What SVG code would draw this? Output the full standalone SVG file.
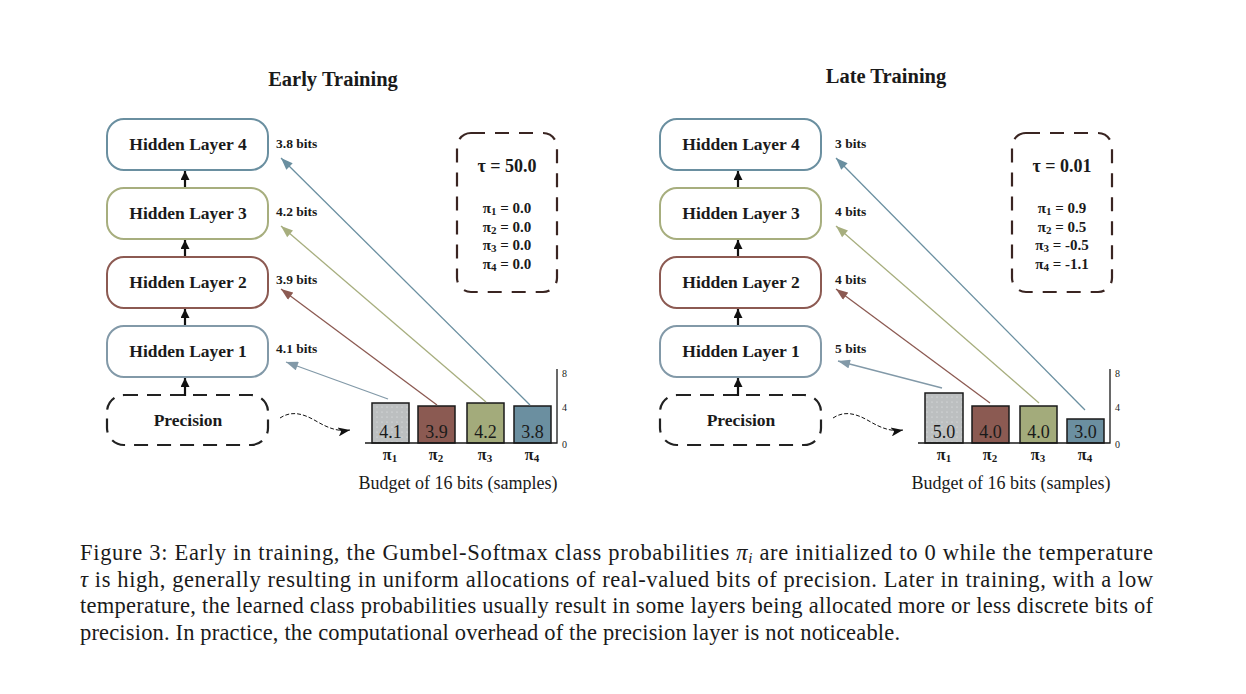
<svg xmlns="http://www.w3.org/2000/svg" width="1246" height="694" viewBox="0 0 1246 694">
<defs>
<style>
.bg{fill:#ffffff}
.title{font-family:"Liberation Serif","DejaVu Serif",serif;font-weight:bold;font-size:20.5px;fill:#1a1a1a;text-anchor:middle}
.node{fill:#ffffff;stroke-width:2}
.nlabel{font-family:"Liberation Serif","DejaVu Serif",serif;font-weight:bold;font-size:17.5px;fill:#1a1a1a;text-anchor:middle}
.bits{font-family:"Liberation Serif","DejaVu Serif",serif;font-weight:bold;font-size:13.5px;fill:#1a1a1a}
.dash{fill:#ffffff;stroke:#222;stroke-width:2.2;stroke-dasharray:14 9}
.tau{fill:none;stroke:#3a2522;stroke-width:2.2;stroke-dasharray:14 10}
.tt{font-family:"Liberation Serif","DejaVu Serif",serif;font-weight:bold;font-size:18px;fill:#1a1a1a;text-anchor:middle}
.pt{font-family:"Liberation Serif","DejaVu Serif",serif;font-weight:bold;font-size:15px;fill:#1a1a1a;text-anchor:middle}
.sub{font-size:11px}
.bar{stroke:#1a1a1a;stroke-width:1.5}
.bv{font-family:"Liberation Serif","DejaVu Serif",serif;font-size:18px;fill:#1a1a1a;text-anchor:middle}
.pl{font-family:"Liberation Serif","DejaVu Serif",serif;font-weight:bold;font-size:16px;fill:#1a1a1a;text-anchor:middle}
.tick{font-family:"Liberation Serif","DejaVu Serif",serif;font-size:10px;fill:#1a1a1a}
.axis{stroke:#1a1a1a;stroke-width:1.3;fill:none}
.budget{font-family:"Liberation Serif","DejaVu Serif",serif;font-size:18px;fill:#1a1a1a;text-anchor:middle}
.cap{font-family:"Liberation Serif","Times New Roman",serif;font-size:22.5px;fill:#1a1a1a}
.up{stroke:#111;stroke-width:2.2;fill:none}
.wave{stroke:#111;stroke-width:1;fill:none;stroke-dasharray:4 2}
.cb{stroke:#6a8fa0;stroke-width:1.3;fill:none}
.co{stroke:#a7ae7e;stroke-width:1.3;fill:none}
.cr{stroke:#8c5a52;stroke-width:1.3;fill:none}
.cg{stroke:#8299a8;stroke-width:1.3;fill:none}
</style>
<pattern id="dots" width="5" height="5" patternUnits="userSpaceOnUse">
<rect width="5" height="5" fill="#bcbfc0"/>
<circle cx="2" cy="2" r="0.6" fill="#e8eaea"/>
</pattern>
<marker id="mk" viewBox="0 0 10 10" refX="10" refY="5" markerWidth="9" markerHeight="9" markerUnits="userSpaceOnUse" orient="auto"><path d="M0,0 L10,5 L0,10 z" fill="#111"/></marker>
<marker id="mw" viewBox="0 0 12 9" refX="12" refY="4.5" markerWidth="13" markerHeight="9" markerUnits="userSpaceOnUse" orient="auto"><path d="M0,0 L12,4.5 L0,9 L3,4.5 z" fill="#111"/></marker>
<marker id="mb" viewBox="0 0 12 9" refX="12" refY="4.5" markerWidth="13" markerHeight="9" markerUnits="userSpaceOnUse" orient="auto"><path d="M0,0 L12,4.5 L0,9 z" fill="#6a8fa0"/></marker>
<marker id="mo" viewBox="0 0 12 9" refX="12" refY="4.5" markerWidth="13" markerHeight="9" markerUnits="userSpaceOnUse" orient="auto"><path d="M0,0 L12,4.5 L0,9 z" fill="#a7ae7e"/></marker>
<marker id="mr" viewBox="0 0 12 9" refX="12" refY="4.5" markerWidth="13" markerHeight="9" markerUnits="userSpaceOnUse" orient="auto"><path d="M0,0 L12,4.5 L0,9 z" fill="#8c5a52"/></marker>
<marker id="mg" viewBox="0 0 12 9" refX="12" refY="4.5" markerWidth="13" markerHeight="9" markerUnits="userSpaceOnUse" orient="auto"><path d="M0,0 L12,4.5 L0,9 z" fill="#8299a8"/></marker>
</defs>
<rect class="bg" x="0" y="0" width="1246" height="694"/>

<text class="title" x="333" y="86">Early Training</text>
<text class="title" x="886" y="83">Late Training</text>

<!-- Left panel nodes -->
<g id="early-hidden4"><rect class="node" x="107" y="119" width="161" height="51" rx="17" stroke="#6a8fa0"/><text class="nlabel" x="188" y="150">Hidden Layer 4</text></g>
<g id="early-hidden3"><rect class="node" x="107" y="188" width="161" height="51" rx="17" stroke="#a7ae7e"/><text class="nlabel" x="188" y="219">Hidden Layer 3</text></g>
<g id="early-hidden2"><rect class="node" x="107" y="257" width="161" height="51" rx="17" stroke="#8c5a52"/><text class="nlabel" x="188" y="288">Hidden Layer 2</text></g>
<g id="early-hidden1"><rect class="node" x="107" y="326" width="161" height="51" rx="17" stroke="#8299a8"/><text class="nlabel" x="188" y="357">Hidden Layer 1</text></g>
<g id="early-precision"><rect class="dash" x="107" y="395" width="161" height="50" rx="17"/><text class="nlabel" x="188" y="426">Precision</text></g>
<g id="early-bits">
<text class="bits" x="276" y="148">3.8 bits</text>
<text class="bits" x="276" y="216">4.2 bits</text>
<text class="bits" x="276" y="284">3.9 bits</text>
<text class="bits" x="276" y="353">4.1 bits</text>
</g>
<g id="early-tau"><rect class="tau" x="457" y="133" width="100" height="159" rx="14"/>
<text class="tt" x="507" y="172">τ = 50.0</text>
<text class="pt" x="507" y="213">π<tspan class="sub" dy="2">1</tspan><tspan dy="-2"> = 0.0</tspan></text>
<text class="pt" x="507" y="232">π<tspan class="sub" dy="2">2</tspan><tspan dy="-2"> = 0.0</tspan></text>
<text class="pt" x="507" y="250">π<tspan class="sub" dy="2">3</tspan><tspan dy="-2"> = 0.0</tspan></text>
<text class="pt" x="507" y="269">π<tspan class="sub" dy="2">4</tspan><tspan dy="-2"> = 0.0</tspan></text>
</g>
<g id="early-chart">
<rect class="bar" x="372" y="403" width="37" height="40" fill="url(#dots)"/>
<rect class="bar" x="418" y="406" width="37" height="37" fill="#8b5a52"/>
<rect class="bar" x="467" y="403" width="37" height="40" fill="#a3ab7b"/>
<rect class="bar" x="514" y="406" width="37" height="37" fill="#6b8fa0"/>
<path class="axis" d="M365,443 H557 V369"/>
<text class="tick" x="562" y="377">8</text>
<text class="tick" x="562" y="411">4</text>
<text class="tick" x="562" y="448">0</text>
<text class="bv" x="390.5" y="438">4.1</text>
<text class="bv" x="436.5" y="438">3.9</text>
<text class="bv" x="485.5" y="438">4.2</text>
<text class="bv" x="532.5" y="438">3.8</text>
<text class="pl" x="390" y="460">π<tspan class="sub" dy="2">1</tspan></text>
<text class="pl" x="436" y="460">π<tspan class="sub" dy="2">2</tspan></text>
<text class="pl" x="485" y="460">π<tspan class="sub" dy="2">3</tspan></text>
<text class="pl" x="532" y="460">π<tspan class="sub" dy="2">4</tspan></text>
<text class="budget" x="458" y="489">Budget of 16 bits (samples)</text>
</g>

<!-- Right panel nodes -->
<g id="late-hidden4"><rect class="node" x="660" y="119" width="161" height="51" rx="17" stroke="#6a8fa0"/><text class="nlabel" x="741" y="150">Hidden Layer 4</text></g>
<g id="late-hidden3"><rect class="node" x="660" y="188" width="161" height="51" rx="17" stroke="#a7ae7e"/><text class="nlabel" x="741" y="219">Hidden Layer 3</text></g>
<g id="late-hidden2"><rect class="node" x="660" y="257" width="161" height="51" rx="17" stroke="#8c5a52"/><text class="nlabel" x="741" y="288">Hidden Layer 2</text></g>
<g id="late-hidden1"><rect class="node" x="660" y="326" width="161" height="51" rx="17" stroke="#8299a8"/><text class="nlabel" x="741" y="357">Hidden Layer 1</text></g>
<g id="late-precision"><rect class="dash" x="660" y="395" width="161" height="50" rx="17"/><text class="nlabel" x="741" y="426">Precision</text></g>
<g id="late-bits">
<text class="bits" x="835" y="148">3 bits</text>
<text class="bits" x="835" y="216">4 bits</text>
<text class="bits" x="835" y="284">4 bits</text>
<text class="bits" x="835" y="353">5 bits</text>
</g>
<g id="late-tau"><rect class="tau" x="1012" y="133" width="100" height="159" rx="14"/>
<text class="tt" x="1062" y="172">τ = 0.01</text>
<text class="pt" x="1062" y="213">π<tspan class="sub" dy="2">1</tspan><tspan dy="-2"> = 0.9</tspan></text>
<text class="pt" x="1062" y="232">π<tspan class="sub" dy="2">2</tspan><tspan dy="-2"> = 0.5</tspan></text>
<text class="pt" x="1062" y="250">π<tspan class="sub" dy="2">3</tspan><tspan dy="-2"> = -0.5</tspan></text>
<text class="pt" x="1062" y="269">π<tspan class="sub" dy="2">4</tspan><tspan dy="-2"> = -1.1</tspan></text>
</g>
<g id="late-chart">
<rect class="bar" x="925" y="393" width="38" height="50" fill="url(#dots)"/>
<rect class="bar" x="972" y="406" width="37" height="37" fill="#8b5a52"/>
<rect class="bar" x="1020" y="406" width="37" height="37" fill="#a3ab7b"/>
<rect class="bar" x="1067" y="419" width="37" height="24" fill="#6b8fa0"/>
<path class="axis" d="M918,443 H1110 V369"/>
<text class="tick" x="1115" y="377">8</text>
<text class="tick" x="1115" y="411">4</text>
<text class="tick" x="1115" y="448">0</text>
<text class="bv" x="944" y="438">5.0</text>
<text class="bv" x="990.5" y="438">4.0</text>
<text class="bv" x="1038.5" y="438">4.0</text>
<text class="bv" x="1085.5" y="438">3.0</text>
<text class="pl" x="944" y="460">π<tspan class="sub" dy="2">1</tspan></text>
<text class="pl" x="990" y="460">π<tspan class="sub" dy="2">2</tspan></text>
<text class="pl" x="1038" y="460">π<tspan class="sub" dy="2">3</tspan></text>
<text class="pl" x="1085" y="460">π<tspan class="sub" dy="2">4</tspan></text>
<text class="budget" x="1011" y="489">Budget of 16 bits (samples)</text>
</g>

<!-- Connectors -->
<g id="connectors">
<line class="up" x1="185" y1="187" x2="185" y2="171" marker-end="url(#mk)"/>
<line class="up" x1="185" y1="256" x2="185" y2="240" marker-end="url(#mk)"/>
<line class="up" x1="185" y1="325" x2="185" y2="309" marker-end="url(#mk)"/>
<line class="up" x1="185" y1="396" x2="185" y2="378" marker-end="url(#mk)"/>
<line class="up" x1="738" y1="187" x2="738" y2="171" marker-end="url(#mk)"/>
<line class="up" x1="738" y1="256" x2="738" y2="240" marker-end="url(#mk)"/>
<line class="up" x1="738" y1="325" x2="738" y2="309" marker-end="url(#mk)"/>
<line class="up" x1="738" y1="396" x2="738" y2="378" marker-end="url(#mk)"/>
<path class="wave" d="M280,418 C292,410 304,414 316,421 S338,432 350,430" marker-end="url(#mw)"/>
<path class="wave" d="M833,418 C845,410 857,414 869,421 S891,432 903,430" marker-end="url(#mw)"/>
<line class="cb" x1="530" y1="405" x2="281" y2="158" marker-end="url(#mb)"/>
<line class="co" x1="486" y1="402" x2="281" y2="226" marker-end="url(#mo)"/>
<line class="cr" x1="437" y1="405" x2="281" y2="289" marker-end="url(#mr)"/>
<line class="cg" x1="388" y1="399" x2="286" y2="362" marker-end="url(#mg)"/>
<line class="cb" x1="1085" y1="410" x2="836" y2="158" marker-end="url(#mb)"/>
<line class="co" x1="1039" y1="403" x2="836" y2="226" marker-end="url(#mo)"/>
<line class="cr" x1="990" y1="403" x2="836" y2="289" marker-end="url(#mr)"/>
<line class="cg" x1="942" y1="388" x2="838" y2="361" marker-end="url(#mg)"/>
</g>

<!-- Caption -->
<g id="caption">
<text class="cap" x="80" y="560" textLength="1073" lengthAdjust="spacing">Figure 3:  Early in training, the Gumbel-Softmax class probabilities <tspan font-style="italic">π</tspan><tspan font-style="italic" font-size="15px" dy="3">i</tspan><tspan dy="-3"> are initialized to 0 while the temperature</tspan></text>
<text class="cap" x="80" y="587" textLength="1073" lengthAdjust="spacing"><tspan font-style="italic">τ</tspan> is high, generally resulting in uniform allocations of real-valued bits of precision.  Later in training, with a low</text>
<text class="cap" x="80" y="613" textLength="1073" lengthAdjust="spacing">temperature, the learned class probabilities usually result in some layers being allocated more or less discrete bits of</text>
<text class="cap" x="80" y="640" textLength="820" lengthAdjust="spacing">precision. In practice, the computational overhead of the precision layer is not noticeable.</text>
</g>
</svg>
